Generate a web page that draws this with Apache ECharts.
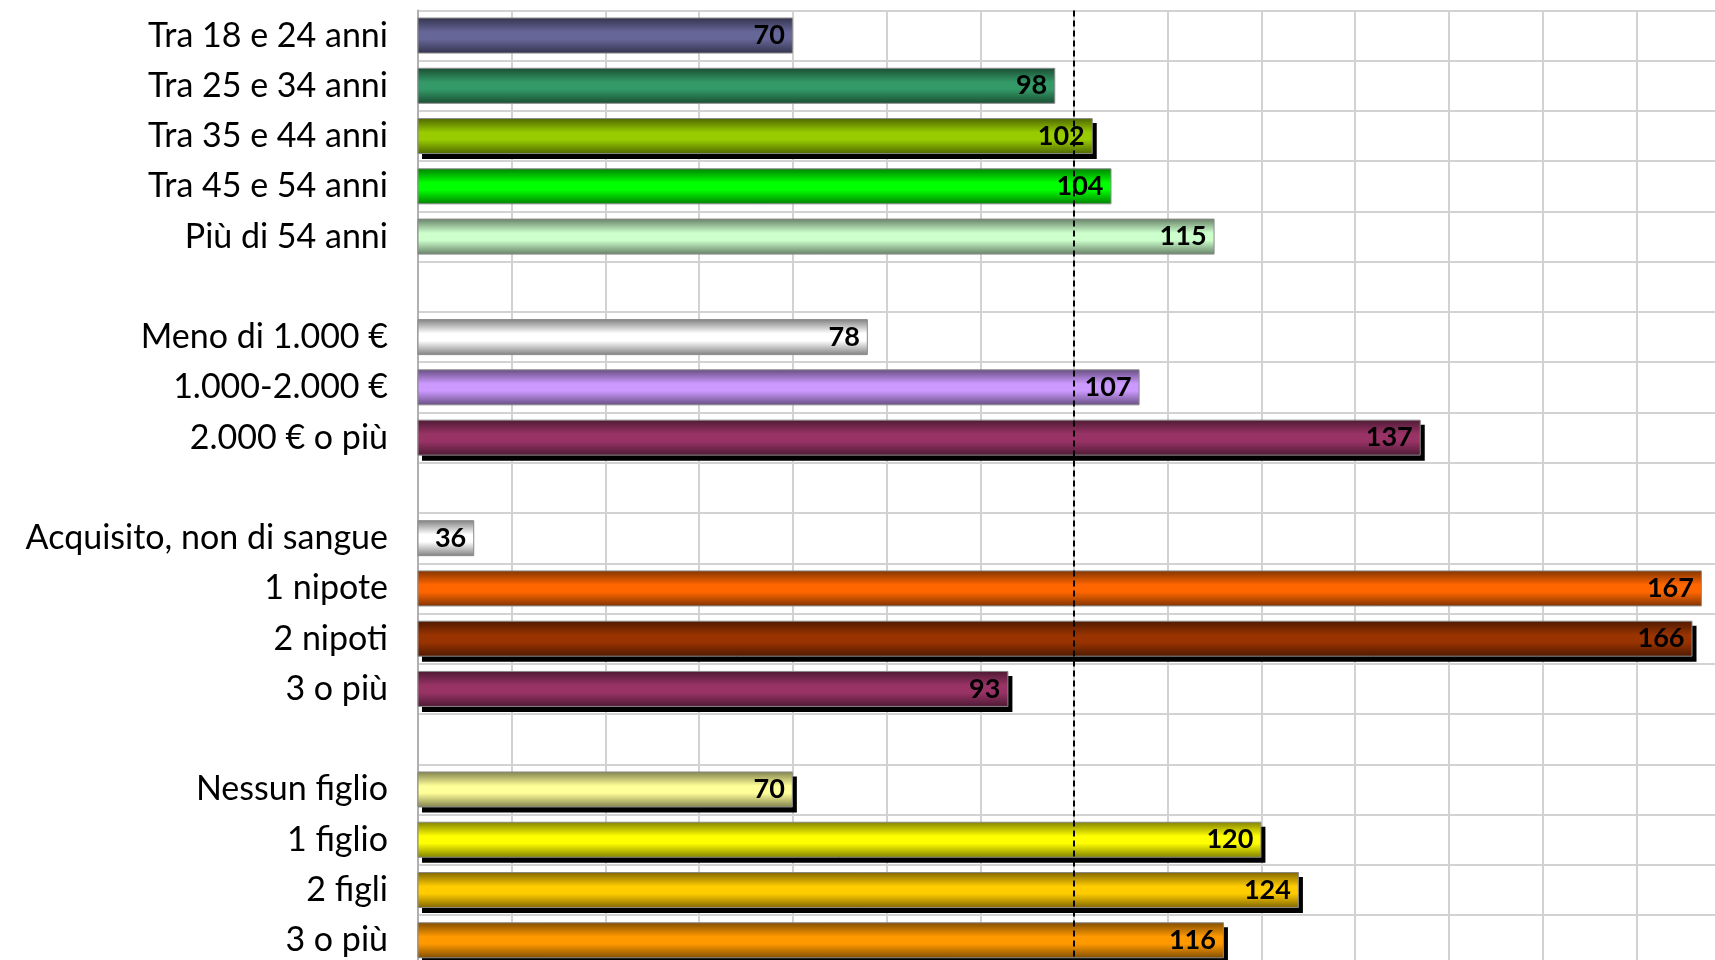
<!DOCTYPE html>
<html>
<head>
<meta charset="utf-8">
<script src="https://cdn.jsdelivr.net/npm/echarts@6/dist/echarts.min.js"></script>
<style>
html,body{margin:0;padding:0;background:#fff;overflow:hidden;width:1715px;height:960px;}
#chart{width:1760px;height:1000px;}
</style>
</head>
<body>
<div id="chart"></div>
<script>
// Categories (blank strings are the empty separator rows)
const categories = [
  'Tra 18 e 24 anni','Tra 25 e 34 anni','Tra 35 e 44 anni','Tra 45 e 54 anni','Più di 54 anni',
  '',
  'Meno di 1.000 €','1.000-2.000 €','2.000 € o più',
  '',
  'Acquisito, non di sangue','1 nipote','2 nipoti','3 o più',
  '',
  'Nessun figlio','1 figlio','2 figli','3 o più'
];
const values = [70, 98, 102, 104, 115, null, 78, 107, 137, null, 36, 167, 166, 93, null, 70, 120, 124, 116];
const referenceValue = 100;

// Styles (main colour, edge colour, drop shadow)
const mainColors = ['#666699','#339966','#99cc00','#00ff00','#ccffcc',null,'#ffffff','#cc99ff','#993366',null,'#ffffff','#ff6600','#993300','#993366',null,'#ffff99','#ffff00','#ffcc00','#ff9900'];
const edgeColors = ['#33334d','#1a4d33','#4d6600','#008000','#668066',null,'#808080','#664d80','#4d1a33',null,'#808080','#803300','#4d1a00','#4d1a33',null,'#80804d','#808000','#806600','#804d00'];
const shadowed = [false,false,true,false,false,false,false,false,true,false,false,false,true,true,false,true,true,true,true];

const seriesData = values.map((v, i) => {
  if (v === null) return null;
  return {
    value: v,
    itemStyle: {
      color: new echarts.graphic.LinearGradient(0, 0, 0, 1, [
        {offset: 0, color: edgeColors[i]},
        {offset: 0.4, color: mainColors[i]},
        {offset: 0.6, color: mainColors[i]},
        {offset: 1, color: edgeColors[i]}
      ]),
      borderColor: '#8a8a8a',
      borderWidth: 1
    }
  };
});
const shadowData = values.map((v, i) => (shadowed[i] ? v : null));

const yData = categories.map((c, i) => String(i));
const chart = echarts.init(document.getElementById('chart'), null, {renderer: 'canvas', width: 1760, height: 1000});
chart.setOption({
  animation: false,
  backgroundColor: '#ffffff',
  grid: [
    {left: 418, top: 10.4, width: 1312, height: 955, containLabel: false},
    {left: 422, top: 15.4, width: 1312, height: 955, containLabel: false}
  ],
  xAxis: [{
    type: 'value', min: 30, max: 170, interval: 10, gridIndex: 0,
    axisLabel: {show: false}, axisTick: {show: false},
    axisLine: {show: false},
    splitLine: {show: true, lineStyle: {color: '#d2d2d2', width: 2}}
  }, {
    type: 'value', min: 30, max: 170, interval: 10, gridIndex: 1, show: false,
    splitLine: {show: false}
  }],
  yAxis: [{
    type: 'category', inverse: true, gridIndex: 0,
    data: yData,
    axisTick: {show: false},
    axisLine: {show: true, lineStyle: {color: '#b0b0b0', width: 2}},
    splitLine: {show: true, lineStyle: {color: '#d2d2d2', width: 2}},
    axisLabel: {
      formatter: (v) => categories[+v],
      fontFamily: 'Lato', fontSize: 34, color: '#000', margin: 30
    }
  }, {
    type: 'category', inverse: true, gridIndex: 1, show: false,
    data: yData, splitLine: {show: false}
  }],
  series: [{
    type: 'bar', xAxisIndex: 1, yAxisIndex: 1, z: 1,
    data: shadowData, barWidth: 36, silent: true,
    itemStyle: {color: '#000000'}
  }, {
    type: 'bar', xAxisIndex: 0, yAxisIndex: 0, z: 3,
    data: seriesData,
    barWidth: 36,
    label: {
      show: true, position: 'insideRight', distance: 8,
      fontFamily: 'Lato', fontWeight: 'bold', fontSize: 27, color: '#000'
    },
    markLine: {
      silent: true, symbol: 'none', z: 10,
      label: {show: false},
      lineStyle: {color: '#000', type: [6, 4], width: 2},
      data: [{xAxis: referenceValue}]
    }
  }]
});
</script>
</body>
</html>
